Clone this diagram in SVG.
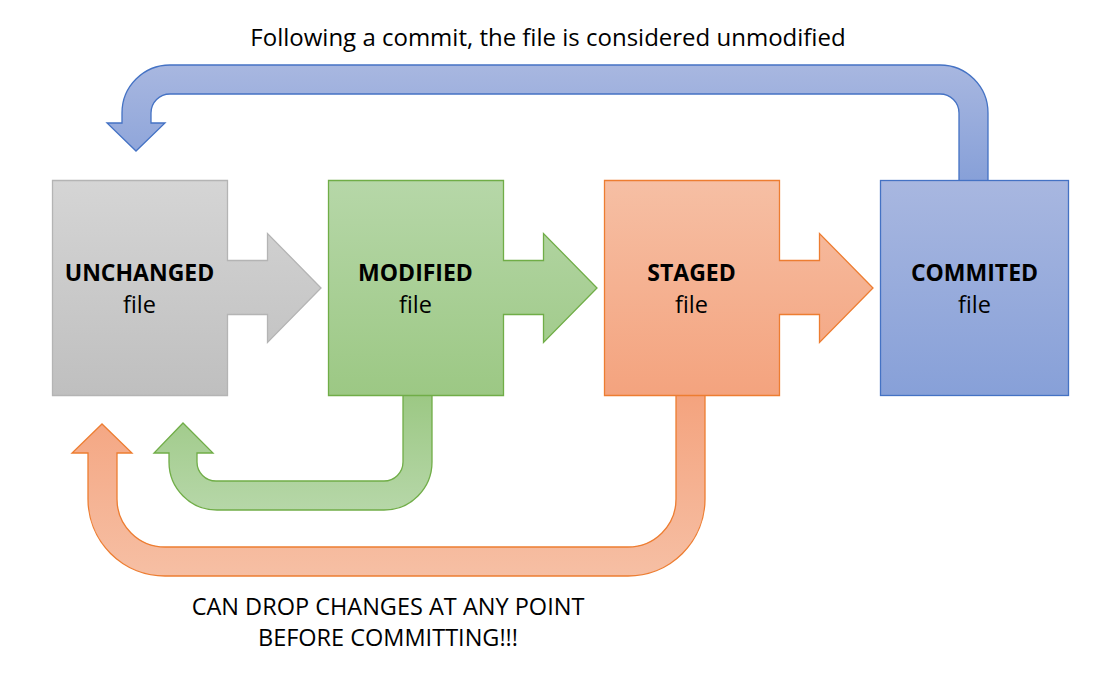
<svg xmlns="http://www.w3.org/2000/svg" width="1116" height="676" viewBox="0 0 1116 676">
<style>
text{font-family:"Open Sans","Noto Sans","Liberation Sans",sans-serif;fill:#000;}
.t{font-size:23px;font-weight:bold;text-anchor:middle;}
.f{font-size:23.5px;text-anchor:middle;}
.top{font-size:24px;text-anchor:middle;}
.cap{font-size:23.5px;text-anchor:middle;}
.sh{stroke-width:1.3;stroke-linejoin:miter;}
</style>
<defs>
<linearGradient id="gGray" x1="0" y1="0" x2="0" y2="1"><stop offset="0" stop-color="#d5d5d5"/><stop offset="1" stop-color="#bfbfbf"/></linearGradient>
<linearGradient id="gGreen" x1="0" y1="0" x2="0" y2="1"><stop offset="0" stop-color="#b6d7a8"/><stop offset="1" stop-color="#9cc884"/></linearGradient>
<linearGradient id="gOrange" x1="0" y1="0" x2="0" y2="1"><stop offset="0" stop-color="#f6bfa4"/><stop offset="1" stop-color="#f4a37e"/></linearGradient>
<linearGradient id="gBlue" x1="0" y1="0" x2="0" y2="1"><stop offset="0" stop-color="#a8b7e0"/><stop offset="1" stop-color="#87a0d8"/></linearGradient>
<linearGradient id="gGreenUp" x1="0" y1="0" x2="0" y2="1"><stop offset="0" stop-color="#9cc884"/><stop offset="1" stop-color="#b6d7a8"/></linearGradient>
<linearGradient id="gOrangeUp" x1="0" y1="0" x2="0" y2="1"><stop offset="0" stop-color="#f4a37e"/><stop offset="1" stop-color="#f6bfa4"/></linearGradient>
</defs>
<g id="connectors">
<path id="commit-return" class="sh" fill="url(#gBlue)" stroke="#4472c4" d="M959,181 L959,113 A19,19 0 0 0 940,94 L170,94 A19,19 0 0 0 151,113 L151,123 L165,123 L136,151 L107,123 L122,123 L122,113 A48,48 0 0 1 170,65 L940,65 A48,48 0 0 1 988,113 L988,181 Z"/>
<path id="modified-return" class="sh" fill="url(#gGreenUp)" stroke="#70ad47" d="M403,395 L403,462 A19,19 0 0 1 384,481 L216,481 A19,19 0 0 1 197,462 L197,453 L213,453 L183,423 L154,453 L169,453 L169,462 A48,48 0 0 0 217,510 L384,510 A48,48 0 0 0 432,462 L432,395 Z"/>
<path id="staged-return" class="sh" fill="url(#gOrangeUp)" stroke="#ed7d31" d="M676,395 L676,499 A48,48 0 0 1 628,547 L165,547 A48,48 0 0 1 117,499 L117,453 L132,453 L102,424 L72,453 L88,453 L88,499 A77,77 0 0 0 165,576 L628,576 A77,77 0 0 0 705,499 L705,395 Z"/>
</g>
<g id="unchanged">
<path class="sh" fill="url(#gGray)" stroke="#b4b4b4" d="M52.5,180.5 L227.5,180.5 L227.5,260.5 L267.5,260.5 L267.5,233.5 L321,288 L267.5,342.5 L267.5,314.5 L227.5,314.5 L227.5,395.5 L52.5,395.5 Z"/>
<text class="t" x="139.5" y="281">UNCHANGED</text>
<text class="f" x="139.5" y="313">file</text>
</g>
<g id="modified">
<path class="sh" fill="url(#gGreen)" stroke="#70ad47" d="M328.5,180.5 L503.5,180.5 L503.5,260.5 L543.5,260.5 L543.5,233.5 L597,288 L543.5,342.5 L543.5,314.5 L503.5,314.5 L503.5,395.5 L328.5,395.5 Z"/>
<text class="t" x="415.5" y="281">MODIFIED</text>
<text class="f" x="415.5" y="313">file</text>
</g>
<g id="staged">
<path class="sh" fill="url(#gOrange)" stroke="#ed7d31" d="M604.5,180.5 L779.5,180.5 L779.5,260.5 L819.5,260.5 L819.5,233.5 L873,288 L819.5,342.5 L819.5,314.5 L779.5,314.5 L779.5,395.5 L604.5,395.5 Z"/>
<text class="t" x="691.5" y="281">STAGED</text>
<text class="f" x="691.5" y="313">file</text>
</g>
<g id="commited">
<rect class="sh" x="880.5" y="180.5" width="188" height="215" fill="url(#gBlue)" stroke="#4472c4"/>
<text class="t" x="974.5" y="281">COMMITED</text>
<text class="f" x="974.5" y="313">file</text>
</g>
<g id="labels">
<text class="top" x="548" y="46">Following a commit, the file is considered unmodified</text>
<text class="cap" x="388" y="615">CAN DROP CHANGES AT ANY POINT</text>
<text class="cap" x="388" y="646">BEFORE COMMITTING!!!</text>
</g>
</svg>
